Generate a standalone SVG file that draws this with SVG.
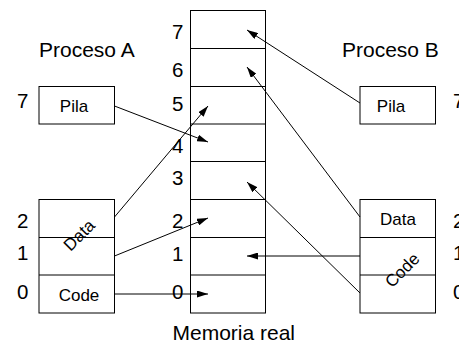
<svg xmlns="http://www.w3.org/2000/svg" width="459" height="343" viewBox="0 0 459 343">
<style>
text{font-family:"Liberation Sans",Arial,sans-serif;fill:#000}
.lbl{font-size:20.5px}
.ttl{font-size:21px}
.box{font-size:17px;text-anchor:middle}
.cell{fill:#fff;stroke:#000;stroke-width:1}
.row{stroke:#000;stroke-width:1;fill:none}
.con{stroke:#000;stroke-width:1;fill:none;marker-end:url(#ah)}
</style>
<defs>
<marker id="ah" viewBox="0 0 11 7" refX="11" refY="3.5" markerWidth="11" markerHeight="7" markerUnits="userSpaceOnUse" orient="auto">
<path d="M0,0 L11,3.5 L0,7 z" fill="#000"/>
</marker>
</defs>
<rect width="459" height="343" fill="#fff"/>

<g id="titles">
<text class="ttl" x="39" y="57">Proceso A</text>
<text class="ttl" x="342" y="57">Proceso B</text>
<text class="ttl" x="172.5" y="340">Memoria real</text>
</g>

<g id="memoria">
<rect class="cell" x="190.5" y="10.5" width="75" height="302.5"/>
<path class="row" d="M190.5,48.5H265.5M190.5,86.5H265.5M190.5,124H265.5M190.5,161.5H265.5M190.5,199.5H265.5M190.5,237.5H265.5M190.5,275H265.5"/>
<text class="lbl" x="172" y="39">7</text>
<text class="lbl" x="172" y="77">6</text>
<text class="lbl" x="172" y="110.5">5</text>
<text class="lbl" x="172" y="153">4</text>
<text class="lbl" x="172" y="185">3</text>
<text class="lbl" x="172" y="228">2</text>
<text class="lbl" x="172" y="260.5">1</text>
<text class="lbl" x="172" y="299">0</text>
</g>

<g id="pilaA">
<rect class="cell" x="39" y="86.5" width="75.5" height="37.5"/>
<text class="box" x="74" y="112">Pila</text>
<text class="lbl" x="17" y="108">7</text>
</g>

<g id="segmentosA">
<rect class="cell" x="39" y="199.5" width="75.5" height="113.5"/>
<path class="row" d="M39,237.5H114.5M39,275H114.5"/>
<text class="box" transform="translate(79,235) rotate(-45)" x="0" y="6">Data</text>
<text class="box" x="79" y="301">Code</text>
<text class="lbl" x="17" y="228">2</text>
<text class="lbl" x="17" y="260">1</text>
<text class="lbl" x="17" y="298.5">0</text>
</g>

<g id="pilaB">
<rect class="cell" x="360" y="86.5" width="75.5" height="37.5"/>
<text class="box" x="391" y="112">Pila</text>
<text class="lbl" x="453" y="108">7</text>
</g>

<g id="segmentosB">
<rect class="cell" x="360" y="199.5" width="75.5" height="113.5"/>
<path class="row" d="M360,237.5H435.5M360,275H435.5"/>
<text class="box" x="398" y="224.5">Data</text>
<text class="box" transform="translate(402,270) rotate(-45)" x="0" y="6">Code</text>
<text class="lbl" x="453" y="228">2</text>
<text class="lbl" x="453" y="260">1</text>
<text class="lbl" x="453" y="298.5">0</text>
</g>

<g id="connectors">
<line class="con" x1="114.5" y1="106" x2="208" y2="142"/>
<line class="con" x1="114.5" y1="217" x2="208" y2="106"/>
<line class="con" x1="114.5" y1="256" x2="208" y2="218"/>
<line class="con" x1="114.5" y1="294" x2="208" y2="294"/>
<line class="con" x1="360" y1="103" x2="247" y2="30"/>
<line class="con" x1="360" y1="217" x2="247" y2="67"/>
<line class="con" x1="360" y1="256" x2="247" y2="256"/>
<line class="con" x1="360" y1="293" x2="247" y2="182"/>
</g>
</svg>
